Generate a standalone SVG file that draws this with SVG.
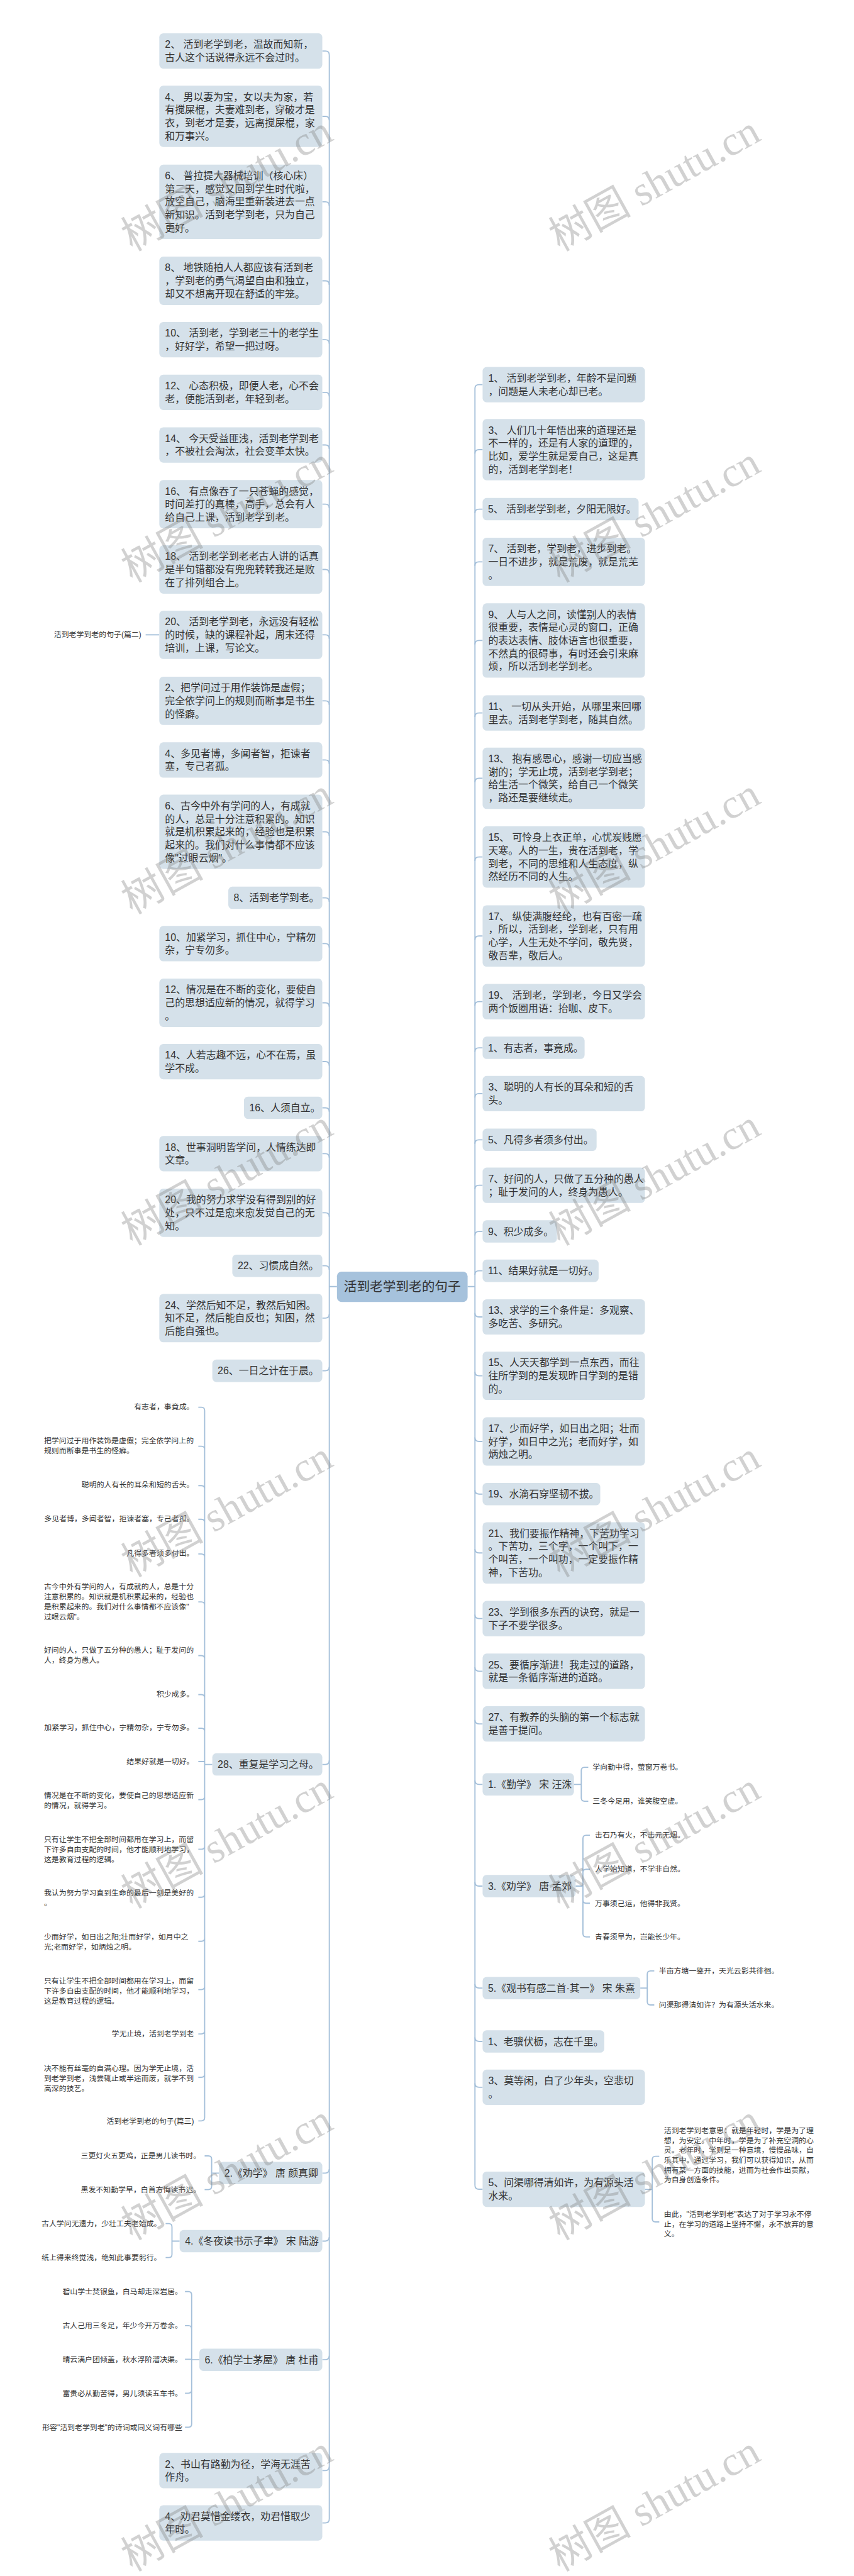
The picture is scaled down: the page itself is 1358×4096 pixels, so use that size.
<svg xmlns="http://www.w3.org/2000/svg" width="1358" height="4096" viewBox="0 0 1358 4096">
<style>
.nd{fill:#d5e1ea}
.rt{fill:#a6c2dc}
text{font-family:'Liberation Sans','Noto Sans CJK SC',sans-serif;fill:#333;font-size:30px}
.lf{font-size:22.5px}
.rtt{font-size:39px}
.e{text-anchor:end}
.m{text-anchor:middle}
.cn path{fill:none;stroke:#a5c0da;stroke-width:3.5}
.wm{font-family:'Liberation Serif','Noto Sans CJK SC',serif;font-size:124px;fill:#808080;fill-opacity:.36;text-anchor:middle}
</style>
<rect width="1358" height="4096" fill="#fff"/>
<g transform="scale(0.53)">
<g id="connectors" class="cn">
<path d="M988 165V7557M988 3860H1011M1425 1166V6556M1403 3860H1425"/>
<path d="M967 153H976Q988 153 988 165M967 349H976Q988 349 988 361M967 605.5H976Q988 605.5 988 617.5M967 842.5H976Q988 842.5 988 854.5M967 1019H976Q988 1019 988 1031M967 1177H976Q988 1177 988 1189M967 1335H976Q988 1335 988 1347M967 1512.5H976Q988 1512.5 988 1524.5M967 1708.5H976Q988 1708.5 988 1720.5M967 1904.5H976Q988 1904.5 988 1916.5M967 2102.5H976Q988 2102.5 988 2114.5M967 2280H976Q988 2280 988 2292M967 2495.5H976Q988 2495.5 988 2507.5M967 2693.5H976Q988 2693.5 988 2705.5M967 2831H976Q988 2831 988 2843M967 3008.5H976Q988 3008.5 988 3020.5M967 3185H976Q988 3185 988 3197M967 3323.5H976Q988 3323.5 988 3335.5M967 3461H976Q988 3461 988 3473M967 3638.5H976Q988 3638.5 988 3650.5M967 3797.5H976Q988 3797.5 988 3809.5"/>
<path d="M967 3954.5H976Q988 3954.5 988 3942.5M967 4112.5H976Q988 4112.5 988 4100.5M967 5293.5H976Q988 5293.5 988 5281.5M967 6519.5H976Q988 6519.5 988 6507.5M967 6723.5H976Q988 6723.5 988 6711.5M967 7079.5H976Q988 7079.5 988 7067.5M967 7412H976Q988 7412 988 7400M967 7569H976Q988 7569 988 7557"/>
<path d="M1448 1154H1437Q1425 1154 1425 1166M1448 1349H1437Q1425 1349 1425 1361M1448 1527.5H1437Q1425 1527.5 1425 1539.5M1448 1685.5H1437Q1425 1685.5 1425 1697.5M1448 1921.5H1437Q1425 1921.5 1425 1933.5M1448 2139H1437Q1425 2139 1425 2151M1448 2335H1437Q1425 2335 1425 2347M1448 2571H1437Q1425 2571 1425 2583M1448 2808H1437Q1425 2808 1425 2820M1448 3005H1437Q1425 3005 1425 3017M1448 3143.5H1437Q1425 3143.5 1425 3155.5M1448 3281H1437Q1425 3281 1425 3293M1448 3419.5H1437Q1425 3419.5 1425 3431.5M1448 3556H1437Q1425 3556 1425 3568M1448 3694.5H1437Q1425 3694.5 1425 3706.5M1448 3812.5H1437Q1425 3812.5 1425 3824.5"/>
<path d="M1448 3951H1437Q1425 3951 1425 3939M1448 4127.5H1437Q1425 4127.5 1425 4115.5M1448 4324.5H1437Q1425 4324.5 1425 4312.5M1448 4482.5H1437Q1425 4482.5 1425 4470.5M1448 4659H1437Q1425 4659 1425 4647M1448 4856H1437Q1425 4856 1425 4844M1448 5014H1437Q1425 5014 1425 5002M1448 5172H1437Q1425 5172 1425 5160M1448 5353.5H1437Q1425 5353.5 1425 5341.5M1448 5658.5H1437Q1425 5658.5 1425 5646.5M1448 5964.5H1437Q1425 5964.5 1425 5952.5M1448 6124.5H1437Q1425 6124.5 1425 6112.5M1448 6262H1437Q1425 6262 1425 6250M1448 6568H1437Q1425 6568 1425 6556"/>
<path d="M437 1904.5H478"/>
<path d="M614 4232V6353M614 5293.5H637M595 4222H604Q614 4222 614 4232M595 4339H604Q614 4339 614 4349M595 4457H604Q614 4457 614 4467M595 4558H604Q614 4558 614 4568M595 4662H604Q614 4662 614 4672M595 4806H604Q614 4806 614 4816M595 4967H604Q614 4967 614 4977M595 5084H604Q614 5084 614 5094M595 5185H604Q614 5185 614 5195M595 5285H614M595 5399H604Q614 5399 614 5389M595 5548H604Q614 5548 614 5538M595 5692H604Q614 5692 614 5682M595 5824H604Q614 5824 614 5814M595 5969H604Q614 5969 614 5959M595 6102H604Q614 6102 614 6092M595 6232H604Q614 6232 614 6222M595 6363H604Q614 6363 614 6353"/>
<path d="M614 6468H625Q635 6468 635 6478M614 6569H625Q635 6569 635 6559M635 6478V6559M635 6519.5H657"/>
<path d="M497 6671H506Q516 6671 516 6681M497 6773H506Q516 6773 516 6763M516 6681V6763M516 6723.5H539"/>
<path d="M555 6875H565Q575 6875 575 6885M555 6977H565Q575 6977 575 6987M555 7078H575M555 7180H565Q575 7180 575 7170M555 7282H565Q575 7282 575 7272M575 6885V7272M575 7079.5H598"/>
<path d="M1765 5302H1754Q1744 5302 1744 5312M1765 5404H1754Q1744 5404 1744 5394M1744 5312V5394M1722 5353.5H1744"/>
<path d="M1770 5506H1759Q1749 5506 1749 5516M1770 5608H1759Q1749 5608 1749 5618M1770 5710H1759Q1749 5710 1749 5700M1770 5811H1759Q1749 5811 1749 5801M1749 5516V5801M1727 5658.5H1749"/>
<path d="M1963 5913H1952Q1942 5913 1942 5923M1963 6015H1952Q1942 6015 1942 6005M1942 5923V6005M1921 5964.5H1942"/>
<path d="M1978 6469H1967Q1957 6469 1957 6479M1978 6666H1967Q1957 6666 1957 6656M1957 6479V6656M1935 6568.5H1957"/>
</g>
<g id="root"><rect class="rt" x="1011" y="3815" width="392" height="91" rx="14"/><text class="rtt m" x="1207" y="3874">活到老学到老的句子</text></g>
<g id="l1"><rect class="nd" x="478" y="100" width="489" height="106" rx="12"/><text x="495" y="144">2、 活到老学到老，温故而知新，<tspan x="495" dy="39">古人这个话说得永远不会过时。</tspan></text></g>
<g id="l2"><rect class="nd" x="478" y="257" width="489" height="184" rx="12"/><text x="495" y="301">4、 男以妻为宝，女以夫为家，若<tspan x="495" dy="39">有搅屎棍，夫妻难到老，穿破才是</tspan><tspan x="495" dy="39">衣，到老才是妻，远离搅屎棍，家</tspan><tspan x="495" dy="39">和万事兴。</tspan></text></g>
<g id="l3"><rect class="nd" x="478" y="494" width="489" height="223" rx="12"/><text x="495" y="538">6、 普拉提大器械培训（核心床）<tspan x="495" dy="39">第二天，感觉又回到学生时代啦，</tspan><tspan x="495" dy="39">放空自己，脑海里重新装进去一点</tspan><tspan x="495" dy="39">新知识。活到老学到老，只为自己</tspan><tspan x="495" dy="39">更好。</tspan></text></g>
<g id="l4"><rect class="nd" x="478" y="770" width="489" height="145" rx="12"/><text x="495" y="814">8、 地铁随拍人人都应该有活到老<tspan x="495" dy="39">，学到老的勇气渴望自由和独立，</tspan><tspan x="495" dy="39">却又不想离开现在舒适的牢笼。</tspan></text></g>
<g id="l5"><rect class="nd" x="478" y="966" width="489" height="106" rx="12"/><text x="495" y="1010">10、 活到老，学到老三十的老学生<tspan x="495" dy="39">，好好学，希望一把过呀。</tspan></text></g>
<g id="l6"><rect class="nd" x="478" y="1124" width="489" height="106" rx="12"/><text x="495" y="1168">12、 心态积极，即便人老，心不会<tspan x="495" dy="39">老，便能活到老，年轻到老。</tspan></text></g>
<g id="l7"><rect class="nd" x="478" y="1282" width="489" height="106" rx="12"/><text x="495" y="1326">14、 今天受益匪浅，活到老学到老<tspan x="495" dy="39">，不被社会淘汰，社会变革太快。</tspan></text></g>
<g id="l8"><rect class="nd" x="478" y="1440" width="489" height="145" rx="12"/><text x="495" y="1484">16、 有点像吞了一只苍蝇的感觉，<tspan x="495" dy="39">时间差打的真棒，高手，总会有人</tspan><tspan x="495" dy="39">给自己上课，活到老学到老。</tspan></text></g>
<g id="l9"><rect class="nd" x="478" y="1636" width="489" height="145" rx="12"/><text x="495" y="1680">18、 活到老学到老老古人讲的话真<tspan x="495" dy="39">是半句错都没有兜兜转转我还是败</tspan><tspan x="495" dy="39">在了排列组合上。</tspan></text></g>
<g id="l10"><rect class="nd" x="478" y="1832" width="489" height="145" rx="12"/><text x="495" y="1876">20、 活到老学到老，永远没有轻松<tspan x="495" dy="39">的时候，缺的课程补起，周末还得</tspan><tspan x="495" dy="39">培训，上课，写论文。</tspan></text></g>
<g id="l10-1"><text class="lf e" x="424" y="1912">活到老学到老的句子(篇二)</text></g>
<g id="l11"><rect class="nd" x="478" y="2030" width="489" height="145" rx="12"/><text x="495" y="2074">2、把学问过于用作装饰是虚假；<tspan x="495" dy="39">完全依学问上的规则而断事是书生</tspan><tspan x="495" dy="39">的怪癖。</tspan></text></g>
<g id="l12"><rect class="nd" x="478" y="2227" width="489" height="106" rx="12"/><text x="495" y="2271">4、多见者博，多闻者智，拒谏者<tspan x="495" dy="39">塞，专己者孤。</tspan></text></g>
<g id="l13"><rect class="nd" x="478" y="2384" width="489" height="223" rx="12"/><text x="495" y="2428">6、古今中外有学问的人，有成就<tspan x="495" dy="39">的人，总是十分注意积累的。知识</tspan><tspan x="495" dy="39">就是机积累起来的，经验也是积累</tspan><tspan x="495" dy="39">起来的。我们对什么事情都不应该</tspan><tspan x="495" dy="39">像"过眼云烟"。</tspan></text></g>
<g id="l14"><rect class="nd" x="685" y="2660" width="282" height="67" rx="12"/><text x="701" y="2704">8、活到老学到老。</text></g>
<g id="l15"><rect class="nd" x="478" y="2778" width="489" height="106" rx="12"/><text x="495" y="2822">10、加紧学习，抓住中心，宁精勿<tspan x="495" dy="39">杂，宁专勿多。</tspan></text></g>
<g id="l16"><rect class="nd" x="478" y="2936" width="489" height="145" rx="12"/><text x="495" y="2980">12、情况是在不断的变化，要使自<tspan x="495" dy="39">己的思想适应新的情况，就得学习</tspan><tspan x="495" dy="39">。</tspan></text></g>
<g id="l17"><rect class="nd" x="478" y="3132" width="489" height="106" rx="12"/><text x="495" y="3176">14、人若志趣不远，心不在焉，虽<tspan x="495" dy="39">学不成。</tspan></text></g>
<g id="l18"><rect class="nd" x="732" y="3290" width="235" height="67" rx="12"/><text x="748" y="3334">16、人须自立。</text></g>
<g id="l19"><rect class="nd" x="478" y="3408" width="489" height="106" rx="12"/><text x="495" y="3452">18、世事洞明皆学问，人情练达即<tspan x="495" dy="39">文章。</tspan></text></g>
<g id="l20"><rect class="nd" x="478" y="3566" width="489" height="145" rx="12"/><text x="495" y="3610">20、我的努力求学没有得到别的好<tspan x="495" dy="39">处，只不过是愈来愈发觉自己的无</tspan><tspan x="495" dy="39">知。</tspan></text></g>
<g id="l21"><rect class="nd" x="697" y="3764" width="270" height="67" rx="12"/><text x="713" y="3808">22、习惯成自然。</text></g>
<g id="l22"><rect class="nd" x="478" y="3882" width="489" height="145" rx="12"/><text x="495" y="3926">24、学然后知不足，教然后知困。<tspan x="495" dy="39">知不足，然后能自反也；知困，然</tspan><tspan x="495" dy="39">后能自强也。</tspan></text></g>
<g id="l23"><rect class="nd" x="637" y="4079" width="330" height="67" rx="12"/><text x="653" y="4123">26、一日之计在于晨。</text></g>
<g id="l24"><rect class="nd" x="637" y="5260" width="330" height="67" rx="12"/><text x="653" y="5304">28、重复是学习之母。</text></g>
<g id="l24-leaves">
<text class="lf e" x="582" y="4228">有志者，事竟成。</text>
<text class="lf" x="132" y="4330">把学问过于用作装饰是虚假；完全依学问上的<tspan x="132" dy="30">规则而断事是书生的怪癖。</tspan></text>
<text class="lf e" x="582" y="4463">聪明的人有长的耳朵和短的舌头。</text>
<text class="lf e" x="582" y="4565">多见者博，多闻者智，拒谏者塞，专己者孤。</text>
<text class="lf e" x="582" y="4667">凡得多者须多付出。</text>
<text class="lf" x="132" y="4768">古今中外有学问的人，有成就的人，总是十分<tspan x="132" dy="30">注意积累的。知识就是机积累起来的，经验也</tspan><tspan x="132" dy="30">是积累起来的。我们对什么事情都不应该像"</tspan><tspan x="132" dy="30">过眼云烟"。</tspan></text>
<text class="lf" x="132" y="4958">好问的人，只做了五分种的愚人；耻于发问的<tspan x="132" dy="30">人，终身为愚人。</tspan></text>
<text class="lf e" x="582" y="5091">积少成多。</text>
<text class="lf e" x="582" y="5191">加紧学习，抓住中心，宁精勿杂，宁专勿多。</text>
<text class="lf e" x="582" y="5293">结果好就是一切好。</text>
<text class="lf" x="132" y="5395">情况是在不断的变化，要使自己的思想适应新<tspan x="132" dy="30">的情况，就得学习。</tspan></text>
<text class="lf" x="132" y="5527">只有让学生不把全部时间都用在学习上，而留<tspan x="132" dy="30">下许多自由支配的时间，他才能顺利地学习，</tspan><tspan x="132" dy="30">这是教育过程的逻辑。</tspan></text>
<text class="lf" x="132" y="5687">我认为努力学习直到生命的最后一刻是美好的<tspan x="132" dy="30">。</tspan></text>
<text class="lf" x="132" y="5819">少而好学，如日出之阳;壮而好学，如月中之<tspan x="132" dy="30">光;老而好学，如炳烛之明。</tspan></text>
<text class="lf" x="132" y="5951">只有让学生不把全部时间都用在学习上，而留<tspan x="132" dy="30">下许多自由支配的时间，他才能顺利地学习，</tspan><tspan x="132" dy="30">这是教育过程的逻辑。</tspan></text>
<text class="lf e" x="582" y="6110">学无止境，活到老学到老</text>
<text class="lf" x="132" y="6213">决不能有丝毫的自满心理。因为学无止境，活<tspan x="132" dy="30">到老学到老，浅尝辄止或半途而废，就学不到</tspan><tspan x="132" dy="30">高深的技艺。</tspan></text>
<text class="lf e" x="582" y="6371">活到老学到老的句子(篇三)</text>
</g>
<g id="l25"><rect class="nd" x="657" y="6486" width="310" height="67" rx="12"/><text x="673" y="6530">2.《劝学》 唐 颜真卿</text></g>
<g id="l25-leaves"><text class="lf e" x="602" y="6476">三更灯火五更鸡，正是男儿读书时。</text><text class="lf e" x="602" y="6577">黑发不知勤学早，白首方悔读书迟。</text></g>
<g id="l26"><rect class="nd" x="539" y="6690" width="428" height="67" rx="12"/><text x="555" y="6734">4.《冬夜读书示子聿》 宋 陆游</text></g>
<g id="l26-leaves"><text class="lf e" x="484" y="6679">古人学问无遗力，少壮工夫老始成。</text><text class="lf e" x="484" y="6781">纸上得来终觉浅，绝知此事要躬行。</text></g>
<g id="l27"><rect class="nd" x="598" y="7046" width="369" height="67" rx="12"/><text x="614" y="7090">6.《柏学士茅屋》 唐 杜甫</text></g>
<g id="l27-leaves"><text class="lf e" x="547" y="6883">碧山学士焚银鱼，白马却走深岩居。</text><text class="lf e" x="547" y="6985">古人己用三冬足，年少今开万卷余。</text><text class="lf e" x="547" y="7086">晴云满户团倾盖，秋水浮阶溜决渠。</text><text class="lf e" x="547" y="7188">富贵必从勤苦得，男儿须读五车书。</text><text class="lf e" x="547" y="7290">形容"活到老学到老"的诗词或同义词有哪些</text></g>
<g id="l28"><rect class="nd" x="478" y="7359" width="489" height="106" rx="12"/><text x="495" y="7403">2、书山有路勤为径，学海无涯苦<tspan x="495" dy="39">作舟。</tspan></text></g>
<g id="l29"><rect class="nd" x="478" y="7516" width="489" height="106" rx="12"/><text x="495" y="7560">4、劝君莫惜金缕衣，劝君惜取少<tspan x="495" dy="39">年时。</tspan></text></g>
<g id="r1"><rect class="nd" x="1448" y="1101" width="487" height="106" rx="12"/><text x="1465" y="1145">1、 活到老学到老，年龄不是问题<tspan x="1465" dy="39">，问题是人未老心却已老。</tspan></text></g>
<g id="r3"><rect class="nd" x="1448" y="1257" width="487" height="184" rx="12"/><text x="1465" y="1301">3、 人们几十年悟出来的道理还是<tspan x="1465" dy="39">不一样的，还是有人家的道理的，</tspan><tspan x="1465" dy="39">比如，爱学生就是爱自己，这是真</tspan><tspan x="1465" dy="39">的，活到老学到老！</tspan></text></g>
<g id="r5"><rect class="nd" x="1448" y="1494" width="468" height="67" rx="12"/><text x="1464" y="1538">5、 活到老学到老，夕阳无限好。</text></g>
<g id="r7"><rect class="nd" x="1448" y="1613" width="487" height="145" rx="12"/><text x="1465" y="1657">7、 活到老，学到老，进步到老。<tspan x="1465" dy="39">一日不进步，就是荒废，就是荒芜</tspan><tspan x="1465" dy="39">。</tspan></text></g>
<g id="r9"><rect class="nd" x="1448" y="1810" width="487" height="223" rx="12"/><text x="1465" y="1854">9、 人与人之间，读懂别人的表情<tspan x="1465" dy="39">很重要，表情是心灵的窗口，正确</tspan><tspan x="1465" dy="39">的表达表情、肢体语言也很重要，</tspan><tspan x="1465" dy="39">不然真的很碍事，有时还会引来麻</tspan><tspan x="1465" dy="39">烦，所以活到老学到老。</tspan></text></g>
<g id="r11"><rect class="nd" x="1448" y="2086" width="487" height="106" rx="12"/><text x="1465" y="2130">11、 一切从头开始，从哪里来回哪<tspan x="1465" dy="39">里去。活到老学到老，随其自然。</tspan></text></g>
<g id="r13"><rect class="nd" x="1448" y="2243" width="487" height="184" rx="12"/><text x="1465" y="2287">13、 抱有感恩心，感谢一切应当感<tspan x="1465" dy="39">谢的；学无止境，活到老学到老；</tspan><tspan x="1465" dy="39">给生活一个微笑，给自己一个微笑</tspan><tspan x="1465" dy="39">，路还是要继续走。</tspan></text></g>
<g id="r15"><rect class="nd" x="1448" y="2479" width="487" height="184" rx="12"/><text x="1465" y="2523">15、 可怜身上衣正单，心忧炭贱愿<tspan x="1465" dy="39">天寒。人的一生，贵在活到老，学</tspan><tspan x="1465" dy="39">到老，不同的思维和人生态度，纵</tspan><tspan x="1465" dy="39">然经历不同的人生。</tspan></text></g>
<g id="r17"><rect class="nd" x="1448" y="2716" width="487" height="184" rx="12"/><text x="1465" y="2760">17、 纵使满腹经纶，也有百密一疏<tspan x="1465" dy="39">，所以，活到老，学到老，只有用</tspan><tspan x="1465" dy="39">心学，人生无处不学问，敬先贤，</tspan><tspan x="1465" dy="39">敬吾辈，敬后人。</tspan></text></g>
<g id="r19"><rect class="nd" x="1448" y="2952" width="487" height="106" rx="12"/><text x="1465" y="2996">19、 活到老，学到老，今日又学会<tspan x="1465" dy="39">两个饭圈用语：抬咖、皮下。</tspan></text></g>
<g id="r21"><rect class="nd" x="1448" y="3110" width="306" height="67" rx="12"/><text x="1464" y="3154">1、有志者，事竟成。</text></g>
<g id="r23"><rect class="nd" x="1448" y="3228" width="487" height="106" rx="12"/><text x="1465" y="3272">3、聪明的人有长的耳朵和短的舌<tspan x="1465" dy="39">头。</tspan></text></g>
<g id="r25"><rect class="nd" x="1448" y="3386" width="342" height="67" rx="12"/><text x="1464" y="3430">5、凡得多者须多付出。</text></g>
<g id="r27"><rect class="nd" x="1448" y="3503" width="487" height="106" rx="12"/><text x="1465" y="3547">7、好问的人，只做了五分种的愚人<tspan x="1465" dy="39">；耻于发问的人，终身为愚人。</tspan></text></g>
<g id="r29"><rect class="nd" x="1448" y="3661" width="223" height="67" rx="12"/><text x="1464" y="3705">9、积少成多。</text></g>
<g id="r31"><rect class="nd" x="1448" y="3779" width="348" height="67" rx="12"/><text x="1464" y="3823">11、结果好就是一切好。</text></g>
<g id="r33"><rect class="nd" x="1448" y="3898" width="487" height="106" rx="12"/><text x="1465" y="3942">13、求学的三个条件是：多观察、<tspan x="1465" dy="39">多吃苦、多研究。</tspan></text></g>
<g id="r35"><rect class="nd" x="1448" y="4055" width="487" height="145" rx="12"/><text x="1465" y="4099">15、人天天都学到一点东西，而往<tspan x="1465" dy="39">往所学到的是发现昨日学到的是错</tspan><tspan x="1465" dy="39">的。</tspan></text></g>
<g id="r37"><rect class="nd" x="1448" y="4252" width="487" height="145" rx="12"/><text x="1465" y="4296">17、少而好学，如日出之阳；壮而<tspan x="1465" dy="39">好学，如日中之光；老而好学，如</tspan><tspan x="1465" dy="39">炳烛之明。</tspan></text></g>
<g id="r39"><rect class="nd" x="1448" y="4449" width="353" height="67" rx="12"/><text x="1464" y="4493">19、水滴石穿坚韧不拔。</text></g>
<g id="r41"><rect class="nd" x="1448" y="4567" width="487" height="184" rx="12"/><text x="1465" y="4611">21、我们要振作精神，下苦功学习<tspan x="1465" dy="39">。下苦功，三个字，一个叫下，一</tspan><tspan x="1465" dy="39">个叫苦，一个叫功，一定要振作精</tspan><tspan x="1465" dy="39">神，下苦功。</tspan></text></g>
<g id="r43"><rect class="nd" x="1448" y="4803" width="487" height="106" rx="12"/><text x="1465" y="4847">23、学到很多东西的诀窍，就是一<tspan x="1465" dy="39">下子不要学很多。</tspan></text></g>
<g id="r45"><rect class="nd" x="1448" y="4961" width="487" height="106" rx="12"/><text x="1465" y="5005">25、要循序渐进！我走过的道路，<tspan x="1465" dy="39">就是一条循序渐进的道路。</tspan></text></g>
<g id="r47"><rect class="nd" x="1448" y="5119" width="487" height="106" rx="12"/><text x="1465" y="5163">27、有教养的头脑的第一个标志就<tspan x="1465" dy="39">是善于提问。</tspan></text></g>
<g id="p1"><rect class="nd" x="1448" y="5320" width="274" height="67" rx="12"/><text x="1464" y="5364">1.《勤学》 宋 汪洙</text></g>
<g id="p1-leaves"><text class="lf" x="1778" y="5310">学向勤中得，萤窗万卷书。</text><text class="lf" x="1778" y="5412">三冬今足用，谁笑腹空虚。</text></g>
<g id="p3"><rect class="nd" x="1448" y="5625" width="279" height="67" rx="12"/><text x="1464" y="5669">3.《劝学》 唐 孟郊</text></g>
<g id="p3-leaves"><text class="lf" x="1785" y="5514">击石乃有火，不击元无烟。</text><text class="lf" x="1785" y="5616">人学始知道，不学非自然。</text><text class="lf" x="1785" y="5718">万事须己运，他得非我贤。</text><text class="lf" x="1785" y="5819">青春须早为，岂能长少年。</text></g>
<g id="p5"><rect class="nd" x="1448" y="5931" width="473" height="67" rx="12"/><text x="1464" y="5975">5.《观书有感二首·其一》 宋 朱熹</text></g>
<g id="p5-leaves"><text class="lf" x="1977" y="5921">半亩方塘一鉴开，天光云影共徘徊。</text><text class="lf" x="1977" y="6023">问渠那得清如许？为有源头活水来。</text></g>
<g id="r51"><rect class="nd" x="1448" y="6091" width="365" height="67" rx="12"/><text x="1464" y="6135">1、老骥伏枥，志在千里。</text></g>
<g id="r53"><rect class="nd" x="1448" y="6209" width="487" height="106" rx="12"/><text x="1465" y="6253">3、莫等闲，白了少年头，空悲切<tspan x="1465" dy="39">。</tspan></text></g>
<g id="r55"><rect class="nd" x="1448" y="6515" width="487" height="106" rx="12"/><text x="1465" y="6559">5、问渠哪得清如许，为有源头活<tspan x="1465" dy="39">水来。</tspan></text></g>
<g id="r55-leaves">
<text class="lf" x="1992" y="6400">活到老学到老意思：就是年轻时，学是为了理<tspan x="1992" dy="29.6">想，为安定。中年时，学是为了补充空洞的心</tspan><tspan x="1992" dy="29.6">灵。老年时，学则是一种意境，慢慢品味，自</tspan><tspan x="1992" dy="29.6">乐其中。通过学习，我们可以获得知识，从而</tspan><tspan x="1992" dy="29.6">拥有某一方面的技能，进而为社会作出贡献，</tspan><tspan x="1992" dy="29.6">为自身创造条件。</tspan></text>
<text class="lf" x="1992" y="6651">由此，"活到老学到老"表达了对于学习永不停<tspan x="1992" dy="29.6">止，在学习的道路上坚持不懈，永不放弃的意</tspan><tspan x="1992" dy="29.6">义。</tspan></text>
</g>
<g id="watermark">
<text class="wm" x="701" y="587" transform="rotate(-29 701 587)">树图 shutu.cn</text>
<text class="wm" x="701" y="1581" transform="rotate(-29 701 1581)">树图 shutu.cn</text>
<text class="wm" x="701" y="2576" transform="rotate(-29 701 2576)">树图 shutu.cn</text>
<text class="wm" x="701" y="3570" transform="rotate(-29 701 3570)">树图 shutu.cn</text>
<text class="wm" x="701" y="4565" transform="rotate(-29 701 4565)">树图 shutu.cn</text>
<text class="wm" x="701" y="5559" transform="rotate(-29 701 5559)">树图 shutu.cn</text>
<text class="wm" x="701" y="6554" transform="rotate(-29 701 6554)">树图 shutu.cn</text>
<text class="wm" x="701" y="7548" transform="rotate(-29 701 7548)">树图 shutu.cn</text>
<text class="wm" x="1984" y="587" transform="rotate(-29 1984 587)">树图 shutu.cn</text>
<text class="wm" x="1984" y="1581" transform="rotate(-29 1984 1581)">树图 shutu.cn</text>
<text class="wm" x="1984" y="2576" transform="rotate(-29 1984 2576)">树图 shutu.cn</text>
<text class="wm" x="1984" y="3570" transform="rotate(-29 1984 3570)">树图 shutu.cn</text>
<text class="wm" x="1984" y="4565" transform="rotate(-29 1984 4565)">树图 shutu.cn</text>
<text class="wm" x="1984" y="5559" transform="rotate(-29 1984 5559)">树图 shutu.cn</text>
<text class="wm" x="1984" y="6554" transform="rotate(-29 1984 6554)">树图 shutu.cn</text>
<text class="wm" x="1984" y="7548" transform="rotate(-29 1984 7548)">树图 shutu.cn</text>
</g>
</g>
</svg>
